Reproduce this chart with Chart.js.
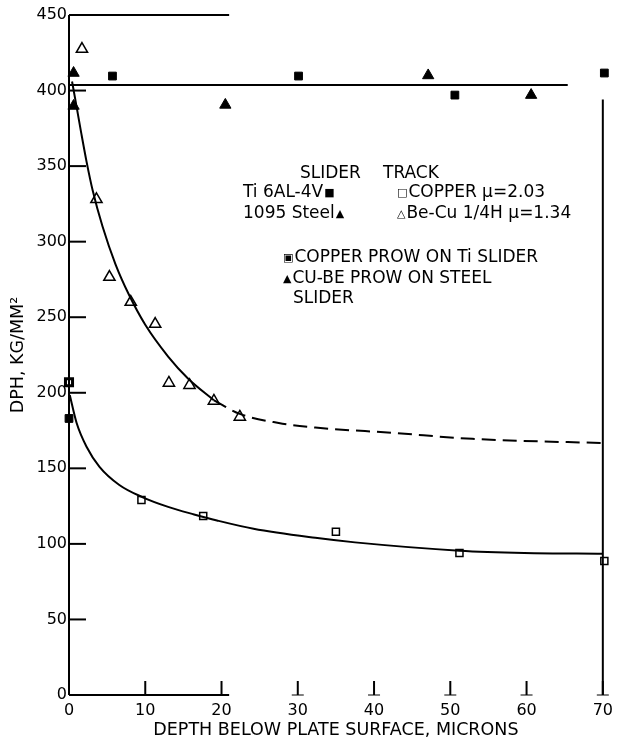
<!DOCTYPE html>
<html>
<head>
<meta charset="utf-8">
<script src="https://cdn.jsdelivr.net/npm/chart.js@4.4.1/dist/chart.umd.min.js"></script>
<style>
  body { margin: 0; background: #fff; }
  canvas { display: block; }
</style>
</head>
<body>
<canvas id="hardness" width="619" height="745"></canvas>
<script>
const beCuTrack = [[1.7,427.5],[3.6,328],[5.3,276.6],[8.1,260],[11.3,245.5],[13.1,206.5],[15.8,205],[19,194.6],[22.4,184]];
const copperTrack = [[9.5,129],[17.6,118.5],[35,108],[51.2,94],[70.2,88.7]];
const tiSlider = [[5.7,409.6],[30.1,409.6],[50.6,397],[70.2,411.6],[0,183]];
const tiProw = [[0,207]];
const steelSlider = [[0.6,411.6],[0.6,389.8],[20.5,390.5],[47.1,410],[60.6,397]];

// hand drawn fit curves
const sliderLine = [[0,403.7],[65.4,403.7]];
const beCuSolid = [[0.4,406],[0.9,392],[1.6,372],[2.3,353],[3.1,334],[4.4,310],[6.1,285],[7.85,265],[10,245],[13,224],[15.6,209.5],[19,195]];
const beCuDashed = [[19,195],[22.4,186],[27.5,180],[32.3,177],[42.6,173.4],[52.9,169.5],[70,166.7]];
const copperFit = [[0.1,198.5],[1,180],[2.3,164.3],[4,151],[6.6,139],[9.6,131],[13,124.5],[16.4,119.5],[19.4,115.5],[24.2,110],[32.3,104],[37.5,101],[51.2,95.5],[59.7,94],[70,93.5]];

const xTicks = [0,10,20,30,40,50,60,70];
const yTicks = [0,50,100,150,200,250,300,350,400,450];

const FONT = "'DejaVu Sans', sans-serif";
const toXY = arr => arr.map(p => ({x: p[0], y: p[1]}));

const markers = (data, style, fill, r, bw) => ({
    type: 'scatter', data: toXY(data), pointStyle: style, pointRadius: r,
    backgroundColor: fill, borderColor: '#000', borderWidth: bw, clip: false
});
const curve = (data, dash) => ({
    type: 'line', data: toXY(data), borderColor: '#000', borderWidth: 2,
    borderDash: dash, pointRadius: 0, cubicInterpolationMode: 'monotone', fill: false
});

// axes are drawn by hand like the original: inward ticks, broken frame
const frame = {
    id: 'frame',
    afterDatasetsDraw(chart) {
        const {ctx, scales: {x, y}} = chart;
        ctx.save();
        ctx.strokeStyle = '#000';
        ctx.lineWidth = 2;
        const line = (x1, y1, x2, y2) => { ctx.beginPath(); ctx.moveTo(x1, y1); ctx.lineTo(x2, y2); ctx.stroke(); };
        const x0 = x.getPixelForValue(0), y0 = y.getPixelForValue(0);
        line(x0, y0, x0, y.getPixelForValue(450));
        line(x0, y.getPixelForValue(450), x.getPixelForValue(21), y.getPixelForValue(450));
        line(x0, y0, x.getPixelForValue(21), y0);
        line(x.getPixelForValue(70), y0, x.getPixelForValue(70), y.getPixelForValue(394));
        yTicks.forEach(v => { if (v > 0) line(x0, y.getPixelForValue(v), x0 + 17, y.getPixelForValue(v)); });
        xTicks.forEach(v => {
            if (v === 0) return;
            const px = x.getPixelForValue(v);
            line(px, y0, px, y0 - 14);
            ctx.lineWidth = 1;
            line(px - 6, y0, px + 6, y0);
            ctx.lineWidth = 2;
        });
        ctx.restore();
    },
    afterDraw(chart) {
        const {ctx, chartArea: a} = chart;
        ctx.save();
        ctx.fillStyle = '#000';
        ctx.textBaseline = 'alphabetic';
        // text at legend size, returns the x where it ends
        const t = (s, px, py) => {
            ctx.font = '17px ' + FONT;
            ctx.fillText(s, a.left + px, a.top + py);
            return px + ctx.measureText(s).width;
        };
        const sym = (s, px, py) => {
            ctx.font = '11px ' + FONT;
            ctx.fillText(s, a.left + px, a.top + py);
            return px + ctx.measureText(s).width;
        };
        t('SLIDER', 231, 163);
        t('TRACK', 314, 163);
        sym('\u25A0', t('Ti 6AL-4V', 174, 182) + 1, 181);
        sym('\u25B2', t('1095 Steel', 174, 203) + 1, 202);
        t('COPPER \u03BC=2.03', sym('\u25A1', 328, 181) + 1, 182);
        t('Be-Cu 1/4H \u03BC=1.34', sym('\u25B3', 328, 202) + 1, 203);
        t('COPPER PROW ON Ti SLIDER', sym('\u25A3', 214, 246) + 1, 247);
        t('CU-BE PROW ON STEEL', sym('\u25B2', 214, 267) + 1, 268);
        t('SLIDER', 224, 288);
        ctx.restore();
    }
};

new Chart(document.getElementById('hardness'), {
    data: {
        datasets: [
            curve(sliderLine, []),
            curve(beCuSolid, []),
            curve(beCuDashed, [14, 7]),
            curve(copperFit, []),
            markers(beCuTrack, 'triangle', '#fff', 6.5, 1.5),
            markers(copperTrack, 'rect', '#fff', 5, 1.5),
            markers(tiSlider, 'rect', '#000', 5.5, 1),
            markers(tiProw, 'rect', '#fff', 5, 3),
            markers(steelSlider, 'triangle', '#000', 6.5, 1)
        ]
    },
    plugins: [frame],
    options: {
        responsive: false,
        animation: false,
        layout: { padding: { top: 15, right: 6, left: 0, bottom: 0 } },
        plugins: { legend: { display: false }, tooltip: { enabled: false } },
        scales: {
            x: {
                type: 'linear', min: 0, max: 70,
                afterFit: s => { s.height = 50; },
                afterBuildTicks: s => { s.ticks = xTicks.map(v => ({value: v})); },
                grid: { display: false, drawTicks: false },
                border: { display: false },
                ticks: { padding: 6, color: '#000', font: { family: FONT, size: 16 } },
                title: { display: true, text: 'DEPTH BELOW PLATE SURFACE, MICRONS', color: '#000',
                         font: { family: FONT, size: 17.5 }, padding: { top: 0, bottom: 4 } }
            },
            y: {
                type: 'linear', min: 0, max: 450,
                afterFit: s => { s.width = 69; },
                afterBuildTicks: s => { s.ticks = yTicks.map(v => ({value: v})); },
                grid: { display: false, drawTicks: false },
                border: { display: false },
                ticks: { padding: 2, color: '#000', font: { family: FONT, size: 16 } },
                title: { display: true, text: 'DPH, KG/MM\u00B2', color: '#000',
                         font: { family: FONT, size: 17.5 }, padding: { top: 8, bottom: 0 } }
            }
        }
    }
});
</script>
</body>
</html>
